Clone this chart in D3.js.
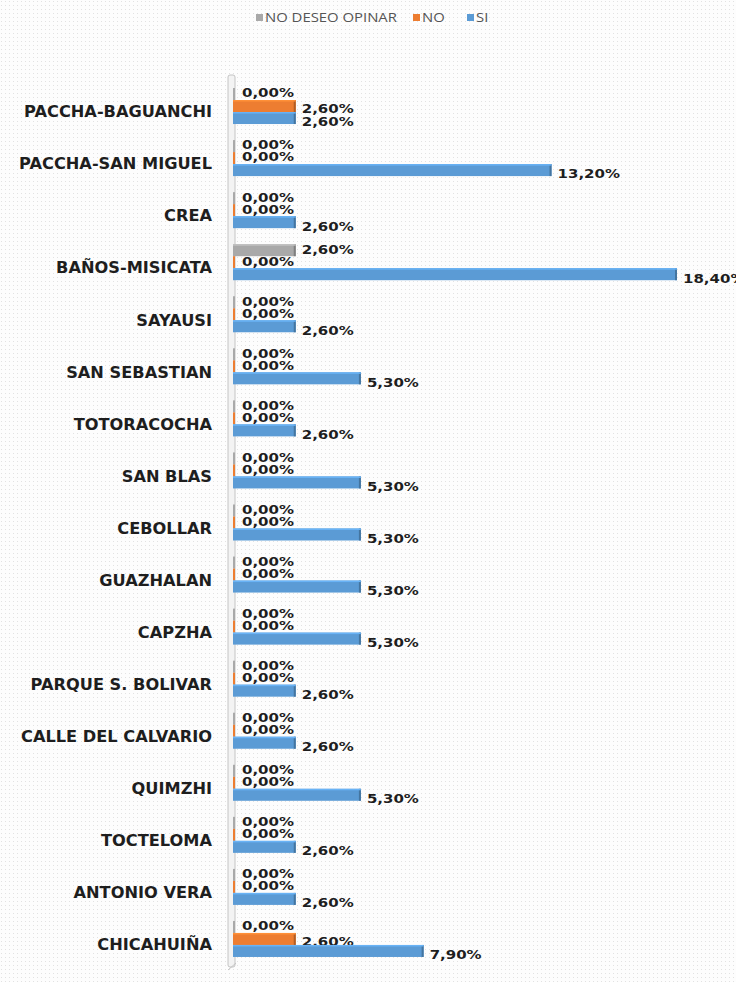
<!DOCTYPE html>
<html lang="en">
<head>
<meta charset="utf-8">
<script src="https://d3js.org/d3.v7.min.js"></script>
<style type="text/css">
body {
	margin: 0;
	background: #fff;
}
.cat {
	font: bold 15px "DejaVu Sans", sans-serif;
	fill: #1e1e1e;
}
.val {
	font: bold 12.5px "DejaVu Sans", sans-serif;
	fill: #1e1e1e;
}
.legend text {
	font: 12px "Open Sans", "Liberation Sans", sans-serif;
	fill: #555;
}
</style>
</head>
<body>
<script type="text/javascript">

// chart data
const places = ["PACCHA-BAGUANCHI", "PACCHA-SAN MIGUEL", "CREA", "BAÑOS-MISICATA", "SAYAUSI",
	"SAN SEBASTIAN", "TOTORACOCHA", "SAN BLAS", "CEBOLLAR", "GUAZHALAN", "CAPZHA",
	"PARQUE S. BOLIVAR", "CALLE DEL CALVARIO", "QUIMZHI", "TOCTELOMA", "ANTONIO VERA", "CHICAHUIÑA"]
const siValues    = [2.6, 13.2, 2.6, 18.4, 2.6, 5.3, 2.6, 5.3, 5.3, 5.3, 5.3, 2.6, 2.6, 5.3, 2.6, 2.6, 7.9]
const noValues    = [2.6, 0, 0, 0, 0, 0, 0, 0, 0, 0, 0, 0, 0, 0, 0, 0, 2.6]
const nsValues    = [0, 0, 0, 2.6, 0, 0, 0, 0, 0, 0, 0, 0, 0, 0, 0, 0, 0]
const seriesNames = ["NO DESEO OPINAR", "NO", "SI"]
const seriesColors = ["#a9a9a9", "#ed7d31", "#5b9bd5"]

const width = 736
const height = 982

const svg = d3.select("body")
	.append("svg")
	.attr("width", width)
	.attr("height", height)

// dotted background
const defs = svg.append("defs")
const pat = defs.append("pattern")
	.attr("id", "dots")
	.attr("width", 4)
	.attr("height", 4)
	.attr("patternUnits", "userSpaceOnUse")
pat.append("rect").attr("width", 4).attr("height", 4).attr("fill", "#fdfdfd")
pat.append("rect").attr("x", 1).attr("y", 1).attr("width", 1).attr("height", 1).attr("fill", "#e2e2e2")
svg.append("rect").attr("width", width).attr("height", height).attr("fill", "url(#dots)")

const x = d3.scaleLinear()
	.domain([0, 18.4])
	.range([233, 677])

const y = d3.scaleBand()
	.domain(places)
	.range([80, 965])
	.padding(0)

const sub = d3.scaleBand()
	.domain(seriesNames)
	.range([-18, 18])

// back wall of the 3d chart
svg.append("rect")
	.attr("x", 228).attr("y", 75)
	.attr("width", 7).attr("height", 892)
	.attr("rx", 2)
	.attr("fill", "#f3f3f3")
	.attr("stroke", "#c4c4c4")
	.attr("stroke-width", 1)
svg.append("path")
	.attr("d", "M228,970 L236,963")
	.attr("stroke", "#c4c4c4")

// category labels (the original picture is stretched sideways a bit)
svg.append("g").selectAll("text")
	.data(places)
	.enter()
	.append("text")
	.attr("class", "cat")
	.attr("transform", d => `translate(212,${y(d) + y.bandwidth() / 2 + 6}) scale(1.08,1)`)
	.attr("dy", "0.35em")
	.attr("text-anchor", "end")
	.text(d => d)

// flatten into rows
const rows = []
const allSeries = [nsValues, noValues, siValues]
places.forEach((p, i) => {
	allSeries.forEach((vals, s) => {
		rows.push({ place: p, series: seriesNames[s], s: s, value: vals[i] })
	})
})

const fmt = v => v.toFixed(2).replace(".", ",") + "%"
const labelDy = d => d.s === 0 ? -13 : d.s === 1 ? (d.value > 0 ? 3 : -1) : 16

const bars = svg.append("g").selectAll("g")
	.data(rows)
	.enter()
	.append("g")

bars.append("rect")
	.attr("x", x(0))
	.attr("y", d => y(d.place) + y.bandwidth() / 2 + sub(d.series))
	.attr("width", d => Math.max(2, x(d.value) - x(0)))
	.attr("height", sub.bandwidth())
	.attr("fill", d => seriesColors[d.s])

// darker end cap and top edge for the 3d look
bars.filter(d => d.value > 0).append("rect")
	.attr("x", d => x(d.value) - 2)
	.attr("y", d => y(d.place) + y.bandwidth() / 2 + sub(d.series))
	.attr("width", 2)
	.attr("height", sub.bandwidth())
	.attr("fill", d => d3.color(seriesColors[d.s]).darker(0.8))
bars.filter(d => d.value > 0).append("rect")
	.attr("x", x(0))
	.attr("y", d => y(d.place) + y.bandwidth() / 2 + sub(d.series))
	.attr("width", d => x(d.value) - x(0))
	.attr("height", 1.5)
	.attr("fill", d => d3.color(seriesColors[d.s]).brighter(0.4))

bars.append("text")
	.attr("class", "val")
	.attr("transform", d => `translate(${x(d.value) + (d.value > 0 ? 6 : 9)},${y(d.place) + y.bandwidth() / 2 + labelDy(d)}) scale(1.2,1)`)
	.attr("dy", "0.35em")
	.text(d => fmt(d.value))

// legend
const legend = svg.append("g").attr("class", "legend")
const legendX = [256, 413, 467]
seriesNames.forEach((n, i) => {
	legend.append("rect")
		.attr("x", legendX[i]).attr("y", 14)
		.attr("width", 7).attr("height", 7)
		.attr("fill", seriesColors[i])
	legend.append("text")
		.attr("transform", `translate(${legendX[i] + 9},18) scale(1.24,1)`)
		.attr("dy", "0.35em")
		.text(n)
})
</script>
</body>
</html>
